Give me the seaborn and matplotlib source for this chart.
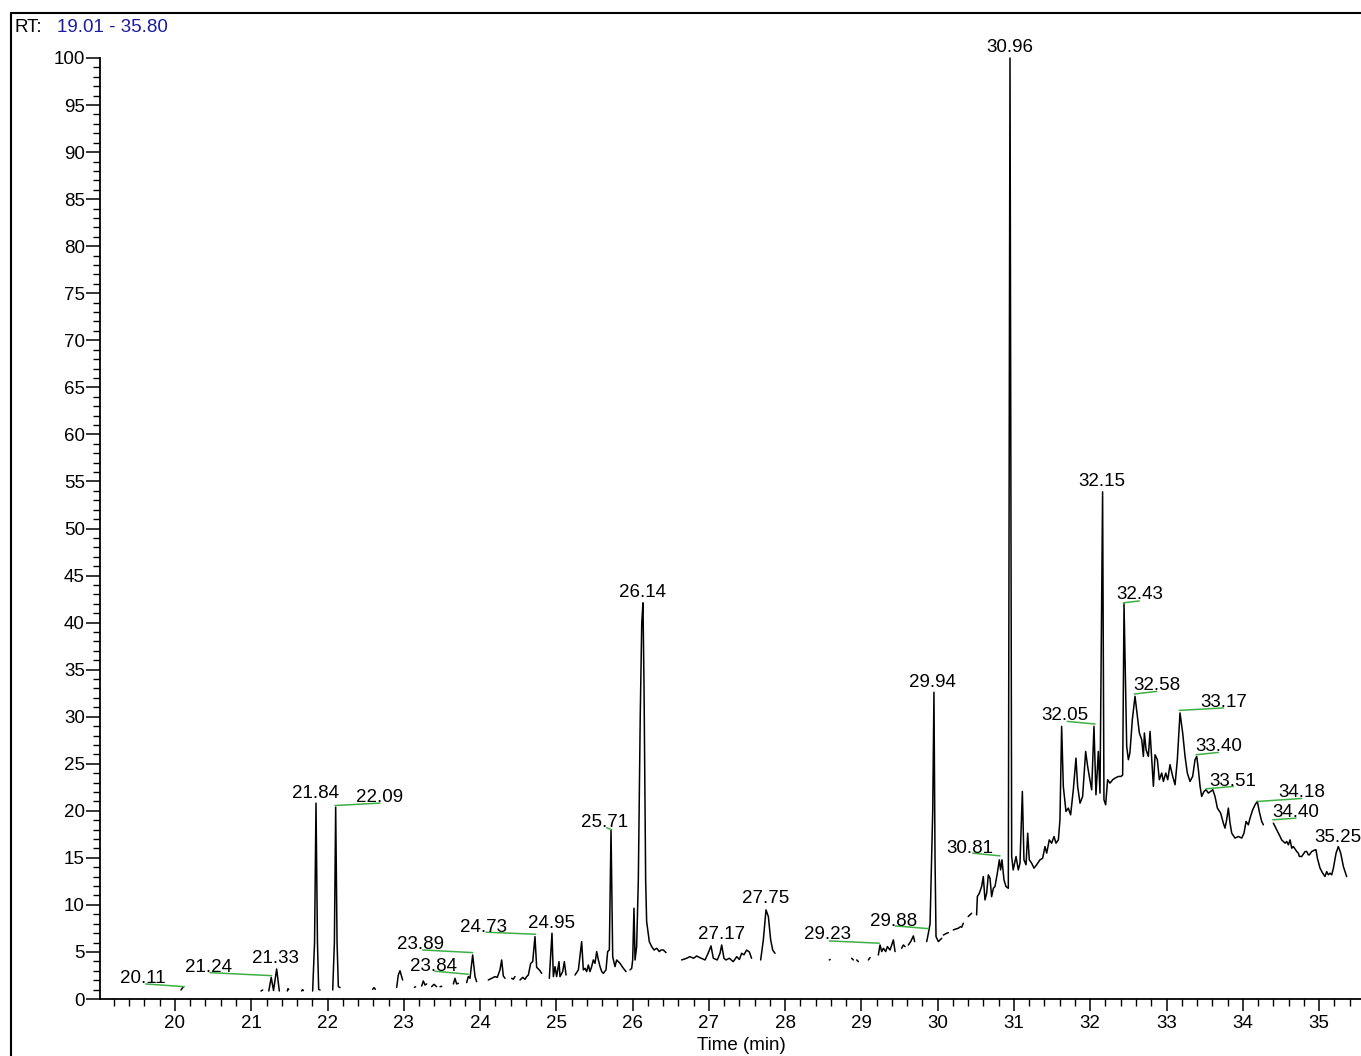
import matplotlib
matplotlib.use("Agg")
import matplotlib.pyplot as plt
from matplotlib.lines import Line2D
from matplotlib.ticker import MultipleLocator
import pandas as pd
import seaborn as sns

# ---------------- data (retention time in min, relative abundance in %) ----------------
# each inner list is one continuous piece of the recorded trace
trace_19_23 = [
    [(20.079, 0.96), (20.11, 1.31)],
    [(21.128, 0.85), (21.15, 0.96)],
    [(21.23, 0.85), (21.262, 2.3), (21.292, 0.9), (21.333, 3.19), (21.368, 0.85)],
    [(21.473, 0.85), (21.482, 1.1), (21.491, 1.0)],
    [(21.661, 0.85), (21.672, 1.0), (21.683, 0.9)],
    [(21.805, 0.85), (21.83, 6.0), (21.849, 20.82), (21.868, 6.0), (21.884, 1.03), (21.902, 0.96)],
    [(22.068, 0.96), (22.09, 6.0), (22.107, 20.39), (22.125, 6.0), (22.142, 1.32), (22.164, 1.21)],
    [(22.592, 1.03), (22.61, 1.21), (22.627, 1.03)],
    [(22.907, 1.24), (22.928, 2.55), (22.95, 3.0), (22.985, 2.02)],
]
trace_23_26 = [
    [(23.14, 1.24), (23.155, 1.3)],
    [(23.234, 1.38), (23.256, 1.92), (23.278, 1.49), (23.30, 1.6)],
    [(23.365, 1.31), (23.396, 1.56), (23.431, 1.31)],
    [(23.475, 1.31), (23.497, 1.35)],
    [(23.65, 1.6), (23.671, 2.2), (23.693, 1.6), (23.715, 1.67)],
    [(23.824, 1.74), (23.846, 2.38), (23.868, 2.2), (23.903, 4.68), (23.934, 2.38), (23.955, 1.84)],
    [(24.108, 2.02), (24.152, 2.2), (24.196, 2.38), (24.226, 2.3), (24.261, 3.09), (24.283, 4.15),
     (24.305, 2.45), (24.327, 2.2)],
    [(24.414, 2.2), (24.436, 2.1), (24.458, 2.38)],
    [(24.524, 2.02), (24.559, 2.3), (24.589, 2.09), (24.611, 2.38), (24.633, 2.55), (24.664, 3.79),
     (24.69, 3.97), (24.72, 6.63), (24.742, 3.37), (24.777, 3.09), (24.808, 2.73)],
    [(24.908, 2.2), (24.943, 6.99), (24.961, 2.38), (24.983, 3.44), (25.004, 2.38), (25.035, 3.97),
     (25.048, 2.38), (25.083, 2.91), (25.105, 3.97), (25.127, 2.55)],
    [(25.245, 2.55), (25.289, 3.09), (25.332, 6.1), (25.354, 3.09), (25.376, 3.26), (25.398, 2.91),
     (25.42, 3.62), (25.441, 2.91), (25.463, 3.44), (25.485, 4.15), (25.507, 3.79), (25.529, 5.04),
     (25.551, 4.15), (25.573, 3.44), (25.595, 2.91), (25.616, 2.73), (25.651, 3.09), (25.673, 5.04),
     (25.695, 5.21), (25.717, 18.0), (25.739, 4.5), (25.769, 3.44), (25.791, 4.15), (25.835, 3.79),
     (25.879, 3.26), (25.914, 2.91)],
    [(25.966, 3.09), (25.988, 3.26), (26.001, 4.15), (26.018, 9.65), (26.032, 4.15), (26.053, 5.57),
     (26.075, 12.66), (26.10, 30.0), (26.12, 40.0), (26.136, 42.1), (26.15, 33.0), (26.171, 12.66),
     (26.184, 8.23), (26.219, 6.1), (26.25, 5.57), (26.281, 5.21), (26.316, 5.39), (26.35, 5.04),
     (26.372, 5.21), (26.403, 5.21), (26.438, 4.93)],
]
trace_26_30 = [
    [(26.643, 4.15), (26.71, 4.33), (26.75, 4.5), (26.80, 4.33), (26.84, 4.57), (26.88, 4.4),
     (26.95, 4.15), (26.99, 4.86), (27.028, 5.64), (27.058, 4.33), (27.11, 4.15), (27.146, 4.86),
     (27.168, 5.74), (27.198, 4.33), (27.224, 4.15), (27.268, 4.33), (27.32, 3.97), (27.365, 4.5),
     (27.40, 4.2), (27.43, 4.86), (27.46, 4.7), (27.495, 5.2), (27.53, 5.0), (27.56, 4.33)],
    [(27.679, 4.15), (27.714, 6.28), (27.749, 9.47), (27.78, 8.76), (27.81, 6.28), (27.837, 5.2),
     (27.867, 4.86)],
    [(28.579, 4.15), (28.59, 4.2)],
    [(28.872, 4.33), (28.894, 4.15)],
    [(28.938, 4.15), (28.96, 3.97)],
    [(29.091, 4.15), (29.113, 4.4)],
    [(29.222, 4.68), (29.244, 5.74), (29.266, 5.04), (29.288, 5.39), (29.318, 5.04), (29.34, 5.57),
     (29.375, 5.21), (29.397, 5.74), (29.419, 6.28), (29.441, 5.04)],
    [(29.528, 5.39), (29.55, 5.74), (29.572, 5.57)],
    [(29.615, 5.74), (29.646, 6.1), (29.681, 6.7), (29.698, 6.1)],
    [(29.856, 6.1), (29.878, 7.0), (29.90, 8.0), (29.935, 20.0), (29.951, 32.6), (29.965, 15.0),
     (29.978, 6.63), (30.009, 6.1), (30.053, 6.45)],
    [(30.074, 6.8), (30.117, 6.98), (30.14, 7.05)],
    [(30.205, 7.34), (30.227, 7.41), (30.27, 7.52), (30.30, 7.69)],
    [(30.314, 7.62), (30.336, 8.05)],
    [(30.40, 8.76), (30.445, 9.11)],
]
trace_30_36 = [
    [(30.51, 8.94), (30.52, 10.88), (30.546, 11.24), (30.576, 11.95), (30.598, 13.01), (30.62, 10.53),
     (30.642, 11.24), (30.664, 13.19), (30.686, 12.83), (30.707, 10.88), (30.73, 11.77), (30.751, 11.95),
     (30.782, 13.37), (30.808, 14.79), (30.825, 13.72), (30.843, 14.79), (30.869, 12.66), (30.895, 11.95),
     (30.926, 11.77), (30.948, 100.0), (30.97, 15.14), (30.99, 13.72), (31.027, 15.14), (31.057, 13.72),
     (31.079, 14.43), (31.11, 22.06), (31.131, 14.79), (31.158, 14.26), (31.18, 17.62), (31.201, 14.79),
     (31.232, 14.43), (31.263, 13.9), (31.297, 14.26), (31.341, 14.79), (31.376, 14.96), (31.407, 16.2),
     (31.429, 15.5), (31.463, 16.91), (31.494, 16.56), (31.525, 17.27), (31.551, 16.56), (31.582, 16.91),
     (31.603, 19.04), (31.625, 28.97), (31.647, 22.59), (31.682, 19.93), (31.713, 20.28), (31.743, 19.57),
     (31.778, 22.23), (31.813, 25.6), (31.835, 22.59), (31.866, 20.81), (31.9, 21.52), (31.94, 26.31),
     (31.966, 24.72), (31.988, 23.65), (32.019, 22.23), (32.049, 28.97), (32.075, 21.7), (32.106, 26.31),
     (32.128, 21.88), (32.162, 53.9), (32.18, 21.17), (32.202, 20.64), (32.228, 23.3), (32.259, 22.94),
     (32.294, 23.3), (32.325, 23.47), (32.368, 23.65), (32.403, 23.65), (32.425, 23.8), (32.443, 42.0),
     (32.478, 26.85), (32.50, 25.43), (32.52, 26.14), (32.552, 29.68), (32.587, 32.17), (32.618, 30.04),
     (32.644, 28.27), (32.675, 27.56), (32.697, 25.78), (32.71, 28.27), (32.732, 26.49), (32.762, 25.78),
     (32.784, 28.44), (32.806, 25.43), (32.828, 22.6), (32.85, 25.96), (32.88, 25.43), (32.906, 23.3),
     (32.937, 24.01), (32.959, 23.12), (32.99, 24.01), (33.016, 23.3), (33.046, 24.9), (33.081, 23.66),
     (33.112, 22.77), (33.142, 25.43), (33.177, 30.4), (33.212, 28.27), (33.243, 25.78), (33.273, 24.01),
     (33.308, 23.12), (33.343, 23.66), (33.374, 25.43), (33.396, 25.78), (33.418, 24.36), (33.44, 22.6),
     (33.461, 21.53), (33.492, 22.06), (33.518, 22.24), (33.549, 21.88), (33.579, 22.06), (33.606, 22.24),
     (33.636, 21.53), (33.667, 20.29), (33.71, 19.75), (33.745, 18.69), (33.767, 18.16), (33.789, 19.05),
     (33.811, 20.29), (33.833, 18.69), (33.855, 17.63), (33.898, 17.1), (33.942, 17.27), (33.986, 17.1),
     (34.016, 17.63), (34.043, 18.87), (34.073, 18.51), (34.095, 19.22), (34.13, 20.11), (34.161, 20.64),
     (34.191, 21.0), (34.217, 19.9), (34.248, 18.87), (34.27, 18.51)],
    [(34.401, 18.69), (34.445, 17.98), (34.489, 17.27), (34.51, 16.91), (34.532, 16.74), (34.554, 16.56),
     (34.576, 16.74), (34.598, 16.39), (34.62, 16.91), (34.642, 16.03), (34.663, 16.2), (34.707, 15.68),
     (34.728, 15.5), (34.742, 15.15), (34.772, 15.14), (34.803, 15.5), (34.816, 15.67), (34.838, 15.68),
     (34.86, 15.32), (34.873, 15.32), (34.903, 15.67), (34.947, 15.85), (34.96, 15.85), (34.978, 14.97),
     (35.013, 13.9), (35.048, 13.37), (35.078, 13.02), (35.1, 13.54), (35.122, 13.2), (35.144, 13.37),
     (35.166, 13.2), (35.188, 13.9), (35.223, 15.5), (35.253, 16.2), (35.284, 15.5), (35.319, 14.08),
     (35.362, 13.01)],
]

# peak labels and where they sit (label centre, in data units)
peak_labels = ["20.11", "21.24", "21.33", "21.84", "22.09", "23.89", "23.84", "24.73", "24.95",
               "25.71", "26.14", "27.17", "27.75", "29.23", "29.88", "29.94", "30.96", "30.81",
               "32.05", "32.15", "32.43", "32.58", "33.17", "33.40", "33.51", "34.18", "34.40", "35.25"]
label_t = [19.574, 20.433, 21.315, 21.836, 22.688, 23.221, 23.383, 24.051, 24.943, 25.631, 26.136,
           27.168, 27.74, 28.549, 29.418, 29.929, 30.948, 30.423, 31.669, 32.15, 32.652, 32.871,
           33.754, 33.679, 33.872, 34.773, 34.698, 35.249]
label_i = [2.37, 3.54, 4.5, 22.05, 21.6, 5.99, 3.72, 7.87, 8.3, 19.04, 43.4, 7.05, 10.88, 7.05,
           8.48, 33.83, 101.4, 16.28, 30.32, 55.2, 43.22, 33.59, 31.73, 27.02, 23.4, 22.16, 20.03, 17.45]

# green leader lines: (t0, i0, t1, i1)
leaders = [
    (19.616, 1.6, 20.122, 1.31), (20.459, 2.8, 21.268, 2.48), (22.098, 20.56, 22.688, 20.82),
    (23.248, 5.21, 23.903, 4.93), (23.409, 2.95, 23.846, 2.63), (24.078, 7.1, 24.729, 6.88),
    (25.66, 18.2, 25.726, 17.98), (28.579, 6.17, 29.234, 5.93), (29.44, 7.77, 29.877, 7.48),
    (30.459, 15.5, 30.817, 15.21), (31.699, 29.5, 32.062, 29.22), (32.433, 42.1, 32.643, 42.3),
    (32.578, 32.41, 32.871, 32.69), (33.168, 30.67, 33.745, 30.93), (33.387, 25.96, 33.679, 26.2),
    (33.518, 22.34, 33.876, 22.59), (34.19, 20.99, 34.773, 21.31), (34.392, 19.04, 34.698, 19.22),
]

rt_range = "19.01 - 35.80"
x_label = "Time (min)"

# ---------------- build table ----------------
rows = []
seg_id = 0
for group in (trace_19_23, trace_23_26, trace_26_30, trace_30_36):
    for seg in group:
        for t, v in seg:
            rows.append({"time": t, "abundance": v, "segment": seg_id})
        seg_id += 1
df = pd.DataFrame(rows)

# ---------------- figure ----------------
sns.set_theme(style="ticks")
plt.rcParams["font.family"] = ["Liberation Sans", "DejaVu Sans"]

W, H = 1361, 1056
fig = plt.figure(figsize=(W / 100, H / 100), dpi=100)
ax = fig.add_axes([100 / W, (H - 999) / H, (W - 100) / W, (999 - 58) / H])

sns.lineplot(data=df, x="time", y="abundance", units="segment", estimator=None, sort=False,
             color="black", linewidth=1.1, ax=ax, legend=False)
for ln in ax.lines:
    ln.set_clip_on(False)

ax.set_xlim(19.017, 35.55)
ax.set_ylim(0, 100)
ax.xaxis.set_major_locator(MultipleLocator(1))
ax.xaxis.set_minor_locator(MultipleLocator(0.2))
ax.yaxis.set_major_locator(MultipleLocator(5))
ax.yaxis.set_minor_locator(MultipleLocator(1))

for s in ("top", "right"):
    ax.spines[s].set_visible(False)
for s in ("left", "bottom"):
    ax.spines[s].set_linewidth(1.3)
    ax.spines[s].set_color("black")

fs = 13.5
ax.tick_params(axis="x", which="major", length=8.6, width=1.1, direction="out", pad=3,
               labelsize=fs, colors="black")
ax.tick_params(axis="x", which="minor", length=5.2, width=1.0, direction="out", colors="black")
ax.tick_params(axis="y", which="major", length=10, width=1.1, direction="out", pad=1,
               labelsize=fs, colors="black")
ax.tick_params(axis="y", which="minor", length=4.8, width=1.0, direction="out", colors="black")

ax.set_ylabel("")
ax.set_xlabel(x_label, fontsize=fs, color="black")
ax.xaxis.set_label_coords((741 - 100) / (W - 100), -(1037 - 999) / (999 - 58))

# leader lines
for t0, i0, t1, i1 in leaders:
    ax.plot([t0, t1], [i0, i1], color="#3cb043", linewidth=1.1, clip_on=False)

# peak labels
for txt, t, v in zip(peak_labels, label_t, label_i):
    ax.annotate(txt, (t, v), xytext=(0, -0.358 * fs), textcoords="offset points",
                ha="center", va="baseline", fontsize=fs, color="black", annotation_clip=False)

# header
fig.text(15 / W, 1 - 32.5 / H, "RT:", fontsize=fs, color="black", ha="left", va="baseline")
fig.text(57 / W, 1 - 32.5 / H, rt_range, fontsize=fs, color="#1c1c9c", ha="left", va="baseline")

# outer frame (left and top edges visible)
fx = 11 / W
fy = 1 - 13.3 / H
fig.add_artist(Line2D([fx, fx], [0, fy], transform=fig.transFigure, color="black", linewidth=1.5))
fig.add_artist(Line2D([fx, 1], [fy, fy], transform=fig.transFigure, color="black", linewidth=1.5))

fig.savefig("out.png", dpi=100)
